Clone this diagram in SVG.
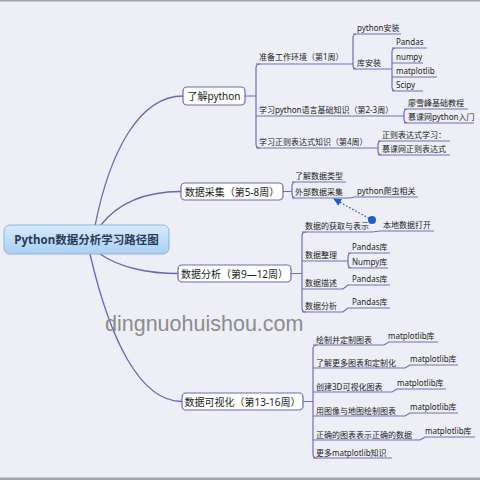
<svg xmlns="http://www.w3.org/2000/svg" width="480" height="480" viewBox="0 0 480 480">
<defs>
<linearGradient id="cg" x1="0" y1="0" x2="0" y2="1">
<stop offset="0" stop-color="#d9ebfc"/>
<stop offset="1" stop-color="#a8cff4"/>
</linearGradient>
<marker id="ah" viewBox="0 0 10 10" refX="9" refY="5" markerWidth="6" markerHeight="6" orient="auto">
<path d="M0 0 L10 5 L0 10 z" fill="#1f5fc0"/>
</marker>
</defs>
<style>
text{font-family:"Noto Sans","Noto Sans CJK SC",sans-serif;fill:#222}
.t{font-size:8px}
.n{font-size:10px;text-anchor:middle}
.box{fill:#fff;stroke:#6d6bb5;stroke-width:1.2}
.ln{fill:none;stroke:#706ebb;stroke-width:1.2}
.cv{fill:none;stroke:#6a68b0;stroke-width:1.3}
</style>
<rect x="0" y="0" width="480" height="480" fill="#eeeff6"/>
<rect x="0" y="0" width="480" height="1.5" fill="#a3a3ab"/>
<rect x="0" y="477.5" width="480" height="2.5" fill="#a3a3ab"/>

<g id="connectors">
<path class="cv" d="M95 226 C110 150 140 96 183 96"/>
<path class="cv" d="M100 226 C120 200 150 191.5 181 191.5"/>
<path class="cv" d="M100 254 C120 268 150 273.5 178 273.5"/>
<path class="cv" d="M90 254 C110 340 140 401.5 182 401.5"/>
<path class="ln" d="M245 96 H256 M260 64 Q256 64 256 68 V144 Q256 148 260 148"/>
<path class="ln" d="M256 64 H353 M357 34 Q353 34 353 38 V65 Q353 69 357 69 M353 34 H401 M353 69 H392"/>
<path class="ln" d="M396 48 Q392 48 392 52 V87 Q392 91 396 91 M392 48 H427 M392 63 H423 M392 77 H437 M392 91 H423"/>
<path class="ln" d="M256 116 H404 M408 109 Q404 109 404 113 V119 Q404 123 408 123 M404 109 H468 M404 123 H474"/>
<path class="ln" d="M256 148 H378 M382 141 Q378 141 378 145 V151 Q378 155 382 155 M378 141 H450 M378 155 H450"/>
<path class="ln" d="M283 191.5 H292 M296 182 Q292 182 292 186 V194 Q292 198 296 198 M292 182 H346 M292 198 H350 L354 197 H418"/>
<path class="ln" d="M291 273.5 H302 M306 232 Q302 232 302 236 V308 Q302 312 306 312"/>
<path class="ln" d="M302 232 H372 L380 231 H434"/>
<path class="ln" d="M302 261 H348 M352 253 Q348 253 348 257 V264 Q348 268 352 268 M348 253 H390 M348 268 H388"/>
<path class="ln" d="M302 289 H343 L348 285 H390"/>
<path class="ln" d="M302 312 H343 L348 308 H390"/>
<path class="ln" d="M303 401.5 H313 M317 345 Q313 345 313 349 V454 Q313 458 317 458"/>
<path class="ln" d="M313 345 H384 L389 342 H438"/>
<path class="ln" d="M313 368 H405 L410 365 H458"/>
<path class="ln" d="M313 392 H392 L397 389 H446"/>
<path class="ln" d="M313 416 H405 L410 413 H458"/>
<path class="ln" d="M313 440 H420 L425 437 H475"/>
<path class="ln" d="M313 458 H392"/>
<path d="M372 220 L334 199" fill="none" stroke="#1f5fc0" stroke-width="1.3" stroke-dasharray="1.5 2" marker-end="url(#ah)"/>
<circle cx="372" cy="220" r="4" fill="#1f5fc0"/>
</g>

<g id="root">
<rect x="4" y="225" width="165" height="29" rx="6" fill="url(#cg)" stroke="#8fb3d9" stroke-width="1"/>
<text x="86.5" y="244" style="font-size:11.5px;font-weight:bold;text-anchor:middle;fill:#2b3a55">Python数据分析学习路径图</text>
</g>

<g id="n1">
<rect class="box" x="183" y="87" width="62" height="18" rx="4"/>
<text class="n" x="214" y="100">了解python</text>
</g>
<g id="n1a"><text class="t" x="259" y="60">准备工作环境（第1周）</text></g>
<g id="n1a1"><text class="t" x="357" y="31">python安装</text></g>
<g id="n1a2"><text class="t" x="357" y="66">库安装</text></g>
<g id="n1a2a"><text class="t" x="396" y="45">Pandas</text></g>
<g id="n1a2b"><text class="t" x="396" y="59.5">numpy</text></g>
<g id="n1a2c"><text class="t" x="396" y="74">matplotlib</text></g>
<g id="n1a2d"><text class="t" x="396" y="88">Scipy</text></g>
<g id="n1b"><text class="t" x="259" y="113">学习python语言基础知识（第2-3周）</text></g>
<g id="n1b1"><text class="t" x="408" y="106">廖雪峰基础教程</text></g>
<g id="n1b2"><text class="t" x="408" y="120">慕课网python入门</text></g>
<g id="n1c"><text class="t" x="259" y="145">学习正则表达式知识（第4周）</text></g>
<g id="n1c1"><text class="t" x="382" y="138">正则表达式学习：</text></g>
<g id="n1c2"><text class="t" x="382" y="152">慕课网正则表达式</text></g>

<g id="n2">
<rect class="box" x="181" y="183" width="102" height="17" rx="4"/>
<text class="n" x="232" y="195.5">数据采集（第5-8周）</text>
</g>
<g id="n2a"><text class="t" x="295" y="179">了解数据类型</text></g>
<g id="n2b"><text class="t" x="295" y="195">外部数据采集</text></g>
<g id="n2b1"><text class="t" x="357" y="194">python爬虫相关</text></g>

<g id="n3">
<rect class="box" x="178" y="265" width="113" height="17" rx="4"/>
<text class="n" x="234.5" y="277.5">数据分析（第9—12周）</text>
</g>
<g id="n3a"><text class="t" x="305" y="229">数据的获取与表示</text></g>
<g id="n3a1"><text class="t" x="383" y="227.5">本地数据打开</text></g>
<g id="n3b"><text class="t" x="305" y="258">数据整理</text></g>
<g id="n3b1"><text class="t" x="352" y="250">Pandas库</text></g>
<g id="n3b2"><text class="t" x="352" y="265">Numpy库</text></g>
<g id="n3c"><text class="t" x="305" y="286">数据描述</text></g>
<g id="n3c1"><text class="t" x="352" y="282">Pandas库</text></g>
<g id="n3d"><text class="t" x="305" y="309">数据分析</text></g>
<g id="n3d1"><text class="t" x="352" y="305">Pandas库</text></g>

<g id="n4">
<rect class="box" x="182" y="393" width="121" height="17" rx="4"/>
<text class="n" x="242.5" y="405.5">数据可视化（第13-16周）</text>
</g>
<g id="n4a"><text class="t" x="316" y="343">绘制并定制图表</text></g>
<g id="n4a1"><text class="t" x="388" y="339">matplotlib库</text></g>
<g id="n4b"><text class="t" x="316" y="366">了解更多图表和定制化</text></g>
<g id="n4b1"><text class="t" x="410" y="362">matplotlib库</text></g>
<g id="n4c"><text class="t" x="316" y="390">创建3D可视化图表</text></g>
<g id="n4c1"><text class="t" x="397" y="386">matplotlib库</text></g>
<g id="n4d"><text class="t" x="316" y="414">用图像与地图绘制图表</text></g>
<g id="n4d1"><text class="t" x="410" y="410">matplotlib库</text></g>
<g id="n4e"><text class="t" x="316" y="438">正确的图表表示正确的数据</text></g>
<g id="n4e1"><text class="t" x="425" y="434">matplotlib库</text></g>
<g id="n4f"><text class="t" x="316" y="456">更多matplotlib知识</text></g>

<text x="105" y="331" style="font-family:'Liberation Sans',sans-serif;font-size:21.5px;fill:#8c8c8c">dingnuohuishou.com</text>
</svg>
